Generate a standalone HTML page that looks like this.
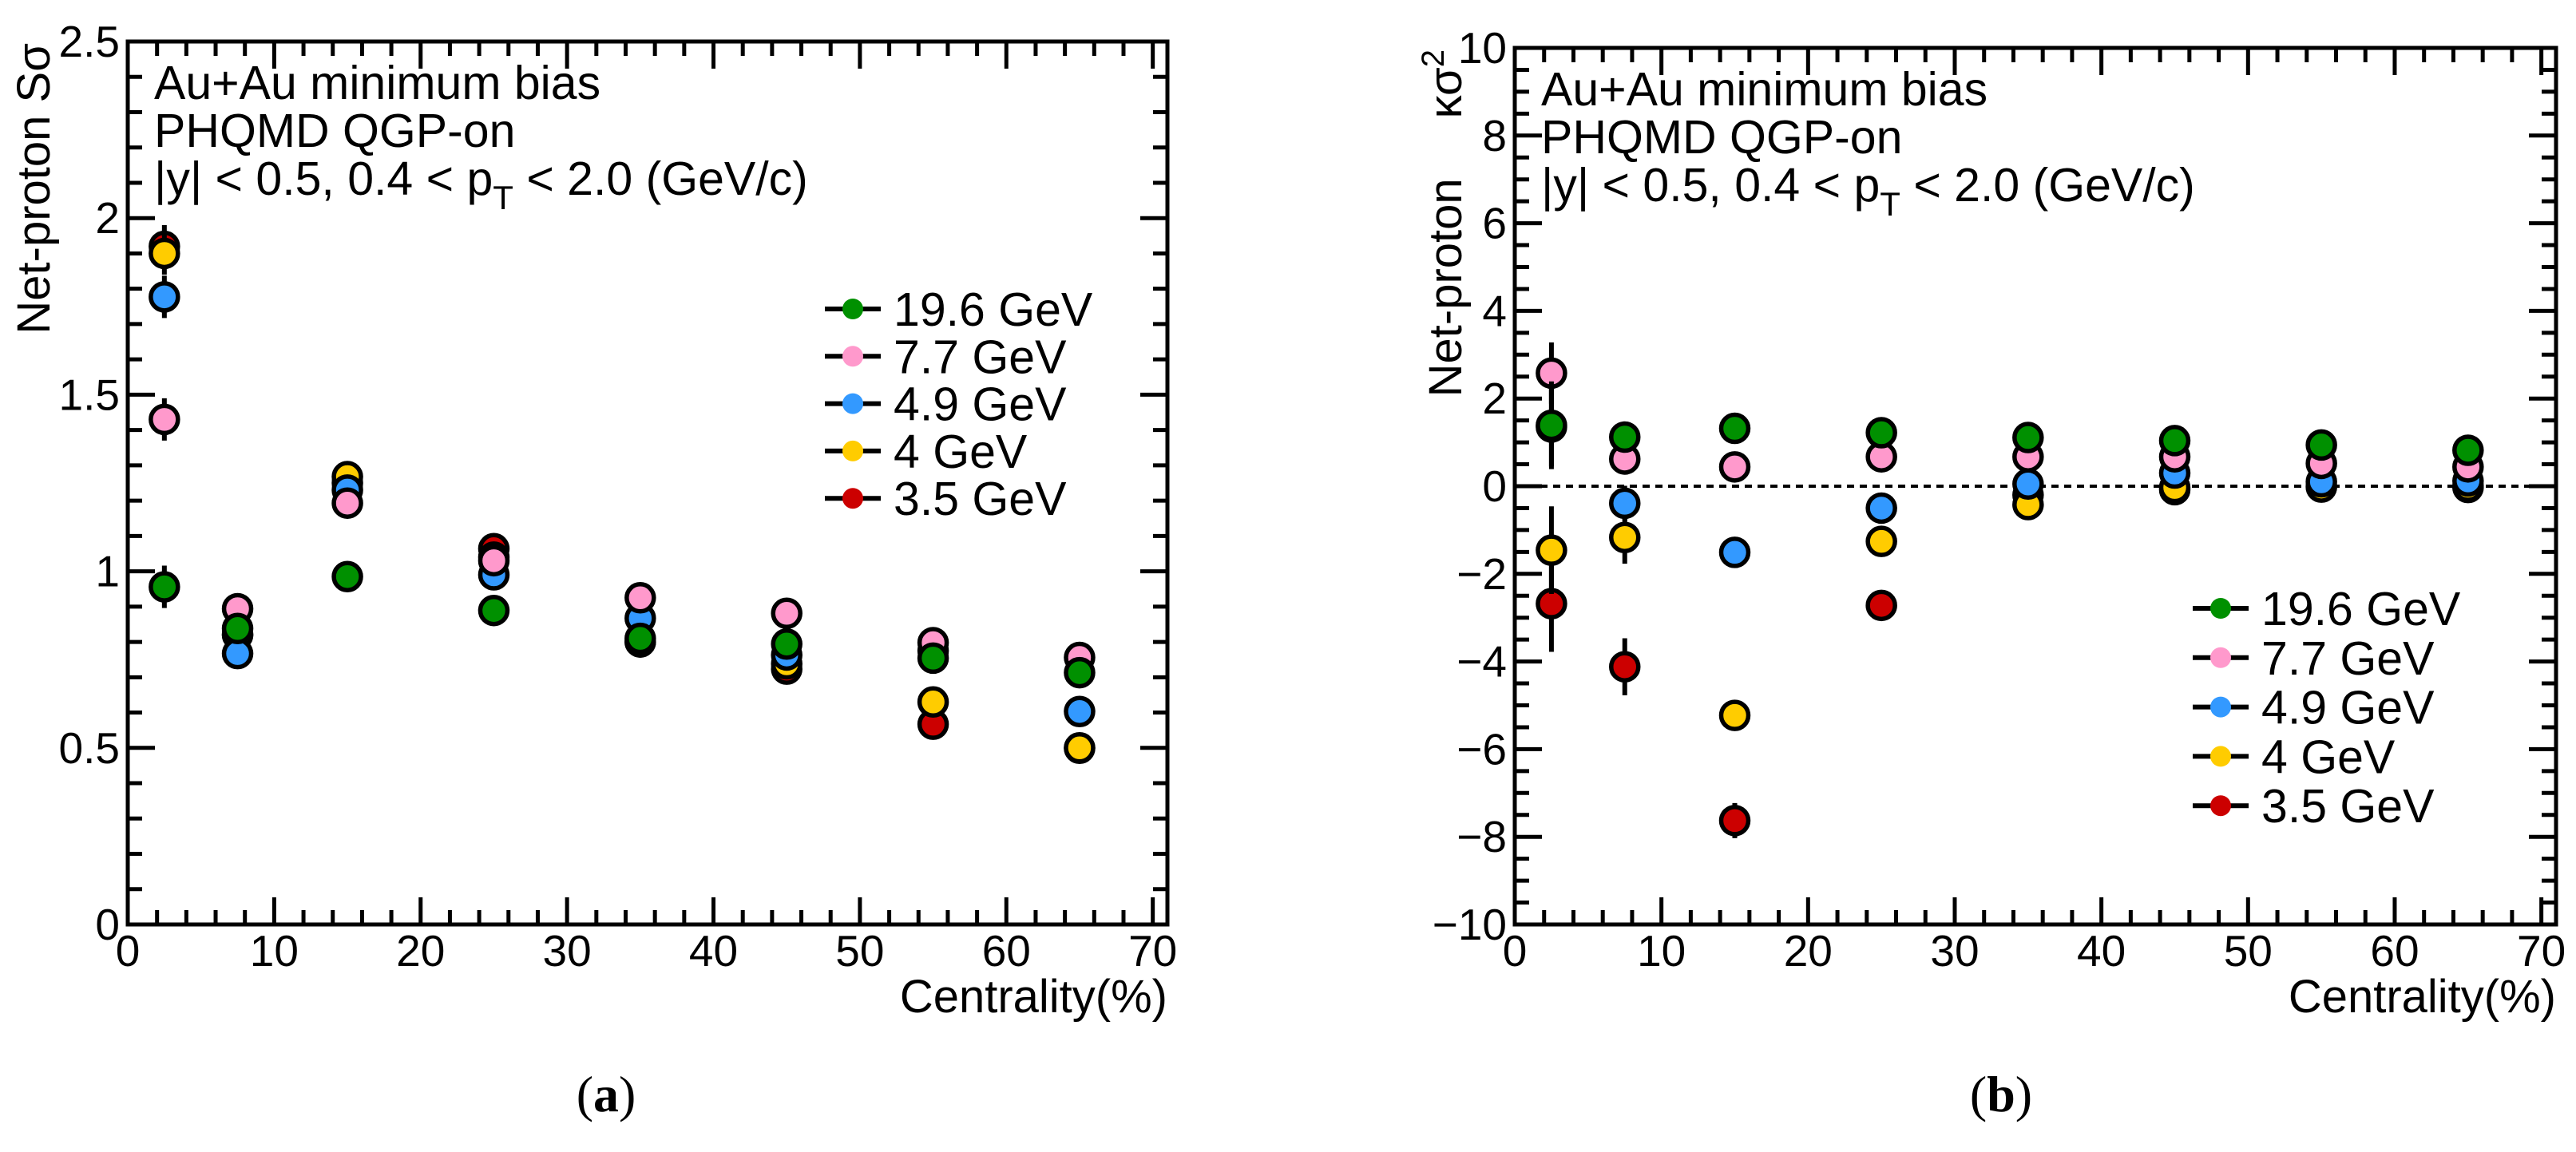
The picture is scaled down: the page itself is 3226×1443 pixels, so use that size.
<!DOCTYPE html>
<html><head><meta charset="utf-8">
<style>
html,body{margin:0;padding:0;background:#fff;}
svg{display:block;font-family:"Liberation Sans",sans-serif;}
</style></head>
<body>
<svg id="fig" width="3226" height="1443" viewBox="0 0 3226 1443" xmlns="http://www.w3.org/2000/svg"></svg>
<script>
// ---- data ----
const centrality = [2.5, 7.5, 15, 25, 35, 45, 55, 65];
const seriesNames = ["19.6 GeV", "7.7 GeV", "4.9 GeV", "4 GeV", "3.5 GeV"];
const seriesColors = ["#009000", "#ff99cc", "#3399ff", "#ffcc00", "#cc0000"];
// Panel (a): S sigma
const sSigma196 = [0.956, 0.838, 0.985, 0.889, 0.81, 0.794, 0.754, 0.713];
const sSigma77  = [1.43, 0.894, 1.193, 1.03, 0.925, 0.881, 0.798, 0.756];
const sSigma49  = [1.777, 0.767, 1.23, 0.99, 0.867, 0.763, 0.775, 0.603];
const sSigma4   = [1.90, 0.82, 1.268, 1.04, 0.80, 0.738, 0.63, 0.50];
const sSigma35  = [1.92, 0.82, 1.25, 1.064, 0.80, 0.723, 0.567, 0.499];
const sSigmaErr = [0.06, 0.04, 0.02, 0.02, 0.015, 0.015, 0.015, 0.015];
// Panel (b): kappa sigma^2
const kSigma196 = [1.39, 1.12, 1.32, 1.22, 1.11, 1.04, 0.94, 0.82];
const kSigma77  = [2.58, 0.62, 0.44, 0.67, 0.67, 0.67, 0.52, 0.44];
const kSigma49  = [1.35, -0.39, -1.51, -0.5, 0.05, 0.3, 0.1, 0.12];
const kSigma4   = [-1.46, -1.17, -5.23, -1.26, -0.42, -0.03, -0.02, 0.0];
const kSigma35  = [-2.68, -4.12, -7.63, -2.72, -0.2, -0.08, 0.0, -0.03];
const kSigmaErr196 = [1.0, 0.3, 0.15, 0.15, 0.1, 0.1, 0.1, 0.1];
const kSigmaErr77  = [0.7, 0.35, 0.2, 0.2, 0.15, 0.1, 0.1, 0.1];
const kSigmaErr49  = [0.9, 0.4, 0.25, 0.2, 0.15, 0.1, 0.1, 0.1];
const kSigmaErr4   = [1.0, 0.6, 0.35, 0.3, 0.2, 0.1, 0.1, 0.1];
const kSigmaErr35  = [1.1, 0.65, 0.4, 0.3, 0.2, 0.15, 0.1, 0.1];
const yTicksA = ["0", "0.5", "1", "1.5", "2", "2.5"];
const yTicksB = ["\u221210", "\u22128", "\u22126", "\u22124", "\u22122", "0", "2", "4", "6", "8", "10"];
const xTickLabels = ["0", "10", "20", "30", "40", "50", "60", "70"];

const NS = "http://www.w3.org/2000/svg";
const svg = document.getElementById("fig");
function mk(tag, attrs, parent) {
  const e = document.createElementNS(NS, tag);
  for (const k in attrs) e.setAttribute(k, attrs[k]);
  (parent || svg).appendChild(e);
  return e;
}

function panel(cfg) {
  const g = mk("g", {});
  
  
  const {L, R, T, B, xmin, xmax, ymin, ymax} = cfg;
  const X = v => L + (v - xmin) / (xmax - xmin) * (R - L);
  const Y = v => B - (v - ymin) / (ymax - ymin) * (B - T);
  const tg = mk("g", {stroke: "#000", "stroke-width": 5}, g);
  
  
  for (let v = 0; v <= 70 + 1e-9; v += 2) {
    const major = Math.abs(v % 10) < 1e-9;
    const len = major ? 34 : 18;
    mk("line", {x1: X(v), x2: X(v), y1: B, y2: B - len}, tg);
    mk("line", {x1: X(v), x2: X(v), y1: T, y2: T + len}, tg);
  }
  const nMinor = Math.round((ymax - ymin) / cfg.yMinor);
  for (let i = 0; i <= nMinor; i++) {
    const v = ymin + i * cfg.yMinor;
    const major = (i % cfg.perMajor) === 0;
    const len = major ? 34 : 18;
    mk("line", {x1: L, x2: L + len, y1: Y(v), y2: Y(v)}, tg);
    mk("line", {x1: R, x2: R - len, y1: Y(v), y2: Y(v)}, tg);
  }
  const frame = mk("rect", {x: L, y: T, width: R - L, height: B - T, fill: "none", stroke: "#000", "stroke-width": 5}, g);
  
  
  xTickLabels.forEach((t, i) => {
    const el = mk("text", {x: X(i * 10), y: B + 52, "font-size": 55, "text-anchor": "middle"}, g);
    el.textContent = t;
    
    
  });
  cfg.yTicks.forEach((t, i) => {
    const v = ymin + i * cfg.yMinor * cfg.perMajor;
    const el = mk("text", {x: L - 10, y: Y(v) + 19, "font-size": 55, "text-anchor": "end"}, g);
    el.textContent = t;
    
    
  });
  const xt = mk("text", {x: R, y: B + 110, "font-size": 58, "text-anchor": "end"}, g);
  xt.textContent = "Centrality(%)";
  
  
  const yt = mk("text", {x: 0, y: 0, "font-size": 58, "text-anchor": "end", transform: `translate(${cfg.yTitleX},${T + 2}) rotate(-90)`}, g);
  yt.innerHTML = cfg.yTitle;
  
  
  const lines = ["Au+Au minimum bias", "PHQMD QGP-on"];
  lines.forEach((s, i) => {
    const el = mk("text", {x: L + 33, y: cfg.textY + i * 60, "font-size": 59}, g);
    el.textContent = s;
    
    
  });
  const l3 = mk("text", {x: L + 33, y: cfg.textY + 120, "font-size": 59}, g);
  l3.innerHTML = '|y| &lt; 0.5, 0.4 &lt; p<tspan dy="18" font-size="42">T</tspan><tspan dy="-18"> &lt; 2.0 (GeV/c)</tspan>';
  
  
  if (cfg.zeroLine) {
    const z = mk("line", {x1: L, x2: R, y1: Y(0), y2: Y(0), stroke: "#000", "stroke-width": 4, "stroke-dasharray": "9 7"}, g);
    
    
  }
  const order = [4, 3, 2, 1, 0];
  order.forEach(si => {
    const sg = mk("g", {}, g);
    
    
    const vals = cfg.series[si], errs = cfg.errs[si];
    centrality.forEach((c, i) => {
      const eb = mk("line", {x1: X(c), x2: X(c), y1: Y(vals[i] + errs[i]), y2: Y(vals[i] - errs[i]), stroke: "#000", "stroke-width": 6}, sg);
      
      
    });
    centrality.forEach((c, i) => {
      const p = mk("circle", {cx: X(c), cy: Y(vals[i]), r: 17, fill: seriesColors[si], stroke: "#000", "stroke-width": 5.5}, sg);
      
      
    });
  });
  const lg = mk("g", {}, g);
  
  
  seriesNames.forEach((n, i) => {
    const y = cfg.legY + i * cfg.legDy;
    const eg = mk("g", {}, lg);
    
    
    mk("line", {x1: cfg.legX - 35, x2: cfg.legX + 35, y1: y, y2: y, stroke: "#000", "stroke-width": 6}, eg);
    mk("circle", {cx: cfg.legX, cy: y, r: 13, fill: seriesColors[i]}, eg);
    const t = mk("text", {x: cfg.legX + 51, y: y + 21, "font-size": 59}, eg);
    t.textContent = n;
  });
  const cap = mk("text", {x: cfg.capX, y: 1392, "font-size": 64, "text-anchor": "middle", "font-family": "Liberation Serif, serif"}, g);
  cap.innerHTML = '(<tspan font-weight="bold">' + cfg.cap + '</tspan>)';
  
  
}

const errsA = [sSigmaErr, sSigmaErr, sSigmaErr, sSigmaErr, sSigmaErr];
panel({name: "panel-a-s-sigma", L: 160, R: 1462, T: 52, B: 1158, xmin: 0, xmax: 71, ymin: 0, ymax: 2.5,
  yMinor: 0.1, perMajor: 5, yTicks: yTicksA, yTitle: 'Net-proton S\u03c3', yTitleX: 62,
  textY: 124, series: [sSigma196, sSigma77, sSigma49, sSigma4, sSigma35], errs: errsA,
  legX: 1068, legY: 387, legDy: 59.3, capX: 759, cap: "a"});
panel({name: "panel-b-kappa-sigma2", L: 1897, R: 3201, T: 60, B: 1158, xmin: 0, xmax: 71, ymin: -10, ymax: 10,
  yMinor: 0.5, perMajor: 4, yTicks: yTicksB, yTitle: 'Net-proton<tspan dx="75">\u03ba\u03c3</tspan><tspan dy="-22" font-size="40">2</tspan>', yTitleX: 1830,
  textY: 132, zeroLine: true, series: [kSigma196, kSigma77, kSigma49, kSigma4, kSigma35],
  errs: [kSigmaErr196, kSigmaErr77, kSigmaErr49, kSigmaErr4, kSigmaErr35],
  legX: 2781, legY: 762, legDy: 61.8, capX: 2506, cap: "b"});
</script>
</body></html>
